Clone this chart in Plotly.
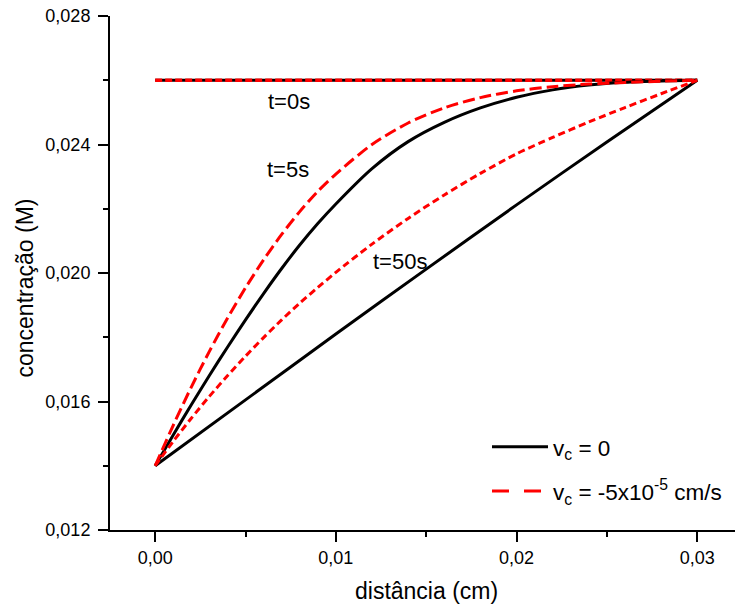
import plotly.graph_objects as go

# ---- data ----
x_t0 = [0.0, 0.030]
c_t0 = [0.026, 0.026]

x_grid = [0.000, 0.001, 0.002, 0.003, 0.004, 0.005, 0.006, 0.007, 0.008, 0.009,
          0.010, 0.012, 0.014, 0.016, 0.018, 0.020, 0.022, 0.024, 0.026, 0.028, 0.030]

c_v0_t5 = [0.01400, 0.01496, 0.01590, 0.01681, 0.01769, 0.01854, 0.01936, 0.02014,
           0.02087, 0.02154, 0.02215, 0.02325, 0.02409, 0.02469, 0.02514, 0.02547,
           0.02570, 0.02585, 0.02594, 0.02598, 0.02600]

c_vm5_t5 = [0.01400, 0.01526, 0.01645, 0.01756, 0.01859, 0.01954, 0.02041, 0.02120,
            0.02191, 0.02254, 0.02308, 0.02400, 0.02467, 0.02514, 0.02546, 0.02567,
            0.02580, 0.02588, 0.02593, 0.02597, 0.02600]

c_vm5_t50 = [0.01400, 0.01476, 0.01548, 0.01616, 0.01680, 0.01741, 0.01799, 0.01854,
             0.01906, 0.01955, 0.02002, 0.02090, 0.02170, 0.02243, 0.02310, 0.02371,
             0.02422, 0.02470, 0.02515, 0.02558, 0.02600]

x_t50_v0 = [0.000, 0.005, 0.010, 0.015, 0.020, 0.025, 0.030]
c_v0_t50 = [0.01400, 0.01605, 0.01810, 0.02012, 0.02212, 0.02408, 0.02600]

x_ticks_fmt = ".2f"
y_ticks_fmt = ".3f"
labels_t = ["t=0s", "t=5s", "t=50s"]
legend_names = ["v<sub>c</sub> = 0", "v<sub>c</sub> = -5x10<sup>-5</sup> cm/s"]

BLACK = "#000000"
RED = "#ff0000"
FONT = "Liberation Sans, Arial, sans-serif"

fig = go.Figure()

# t = 0
fig.add_trace(go.Scatter(x=x_t0, y=c_t0, mode="lines",
                         line=dict(color=BLACK, width=3), showlegend=False))
fig.add_trace(go.Scatter(x=x_t0, y=c_t0, mode="lines",
                         line=dict(color=RED, width=3.5, dash="7px,3px"), showlegend=False))
# t = 5 s
fig.add_trace(go.Scatter(x=x_grid, y=c_v0_t5, mode="lines",
                         line=dict(color=BLACK, width=3, shape="spline", smoothing=0.8),
                         showlegend=False))
fig.add_trace(go.Scatter(x=x_grid, y=c_vm5_t5, mode="lines",
                         line=dict(color=RED, width=3, dash="12px,5px",
                                   shape="spline", smoothing=0.8),
                         showlegend=False))
# t = 50 s
fig.add_trace(go.Scatter(x=x_t50_v0, y=c_v0_t50, mode="lines",
                         line=dict(color=BLACK, width=3, shape="spline", smoothing=0.8),
                         showlegend=False))
fig.add_trace(go.Scatter(x=x_grid, y=c_vm5_t50, mode="lines",
                         line=dict(color=RED, width=3, dash="7px,4px",
                                   shape="spline", smoothing=0.8),
                         showlegend=False))

# legend entries
fig.add_trace(go.Scatter(x=[None], y=[None], mode="lines", name=legend_names[0],
                         legendgroup="a", line=dict(color=BLACK, width=3)))
fig.add_trace(go.Scatter(x=[None], y=[None], mode="lines", name=legend_names[1],
                         legendgroup="b", line=dict(color=RED, width=3, dash="17px,15px")))

axis_common = dict(showgrid=False, zeroline=False, linecolor=BLACK, linewidth=2,
                   tickcolor=BLACK, tickwidth=2)

xr = [-0.0025, 0.03209]
yr = [0.012, 0.028]

fig.update_layout(
    width=735, height=608,
    margin=dict(l=110, r=0, t=16, b=78, pad=0),
    paper_bgcolor="white", plot_bgcolor="white",
    separators=",.",
    font=dict(family=FONT, color=BLACK, size=18),
    xaxis=dict(range=xr, showline=True, ticks="outside", ticklen=10,
               tick0=0, dtick=0.01, tickformat=x_ticks_fmt,
               tickfont=dict(size=18, family=FONT),
               minor=dict(tick0=0, dtick=0.005, ticks="outside", ticklen=5,
                          tickwidth=2, tickcolor=BLACK),
               **axis_common),
    xaxis2=dict(range=xr, overlaying="x", side="top", anchor="y", showline=True,
                ticks="inside", ticklen=10, tick0=0, dtick=0.01,
                showticklabels=False,
                minor=dict(tick0=0, dtick=0.005, ticks="inside", ticklen=5,
                           tickwidth=2, tickcolor=BLACK),
                **axis_common),
    yaxis=dict(range=yr, showline=True, ticks="outside", ticklen=10,
               tick0=0.012, dtick=0.004, tickformat=y_ticks_fmt,
               tickfont=dict(size=18, family=FONT), ticklabelstandoff=4,
               minor=dict(tick0=0.012, dtick=0.002, ticks="outside", ticklen=5,
                          tickwidth=2, tickcolor=BLACK),
               **axis_common),
    yaxis2=dict(range=yr, overlaying="y", side="right", anchor="x", showline=False,
                ticks="inside", ticklen=4, tick0=0.012, dtick=0.004,
                showticklabels=False, showgrid=False, zeroline=False,
                tickcolor=BLACK, tickwidth=2),
    legend=dict(x=0.6032, y=0.203, xanchor="left", yanchor="top",
                bgcolor="rgba(0,0,0,0)", font=dict(size=22.5, family=FONT),
                tracegroupgap=12, itemwidth=56),
    showlegend=True,
)

# curve labels
for txt, xx, yy in [(labels_t[0], 0.00742, 0.02535),
                    (labels_t[1], 0.00736, 0.02321),
                    (labels_t[2], 0.01356, 0.02037)]:
    fig.add_annotation(x=xx, y=yy, xref="x", yref="y", text=txt, showarrow=False,
                       xanchor="center", yanchor="middle",
                       font=dict(size=22, family=FONT, color=BLACK))

# axis titles
fig.add_annotation(x=0.5064, y=-0.1187, xref="paper", yref="paper",
                   text="distância (cm)", showarrow=False,
                   xanchor="center", yanchor="middle",
                   font=dict(size=23, family=FONT, color=BLACK))
fig.add_annotation(x=-0.1352, y=0.4708, xref="paper", yref="paper",
                   text="concentração (M)", showarrow=False, textangle=-90,
                   xanchor="center", yanchor="middle",
                   font=dict(size=23, family=FONT, color=BLACK))

fig.write_html("out.html")
